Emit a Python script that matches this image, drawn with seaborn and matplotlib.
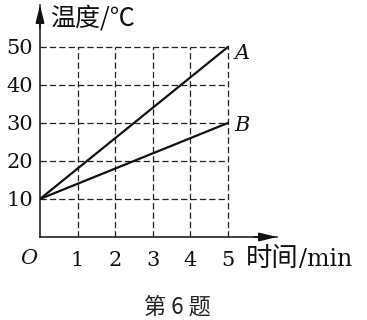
import matplotlib
matplotlib.use("Agg")
import matplotlib.pyplot as plt
import seaborn as sns
import pandas as pd

# data
times = [0, 5]
temp_A = [10, 50]
temp_B = [10, 30]
series = ["A", "B"]
x_ticks = [1, 2, 3, 4, 5]
y_ticks = [10, 20, 30, 40, 50]

df = pd.DataFrame({
    "time": times + times,
    "temp": temp_A + temp_B,
    "line": ["A"] * len(times) + ["B"] * len(times),
})

sns.set_theme(style="white")
plt.rcParams["font.family"] = ["DejaVu Serif"]
CJK = ["Noto Sans CJK SC", "DejaVu Sans"]

fig = plt.figure(figsize=(3.67, 3.2), dpi=100)
ax = fig.add_axes([40 / 367, 83 / 320, 237 / 367, 232 / 320])

# dashed grid
ax.hlines(y_ticks, 0, max(x_ticks), colors="#222222", linewidth=0.9,
          linestyles=(0, (5, 2.5)), zorder=1)
ax.vlines(x_ticks, 0, max(y_ticks), colors="#222222", linewidth=0.9,
          linestyles=(0, (5, 2.5)), zorder=1)

sns.lineplot(data=df, x="time", y="temp", units="line", estimator=None,
             color="#111111", linewidth=1.6, ax=ax, zorder=3, legend=False)

ax.set_xlim(0, 6.3)
ax.set_ylim(0, 61)
ax.set_xlabel("")
ax.set_ylabel("")
ax.set_xticks(x_ticks)
ax.set_yticks(y_ticks)
ax.set_xticklabels([str(v) for v in x_ticks])
ax.set_yticklabels([str(v) for v in y_ticks])
ax.tick_params(axis="both", length=0, labelsize=15, colors="#111111")
ax.tick_params(axis="x", pad=10)
ax.tick_params(axis="y", pad=5)

for s in ["top", "right"]:
    ax.spines[s].set_visible(False)
for s in ["left", "bottom"]:
    ax.spines[s].set_color("#111111")
    ax.spines[s].set_linewidth(1.1)

# arrows
ax.annotate("", xy=(1.0, 0), xycoords="axes fraction", xytext=(0.9, 0),
            arrowprops=dict(arrowstyle="-|>,head_length=0.9,head_width=0.22",
                            color="#111111", lw=1.1, shrinkA=0, shrinkB=0))
ax.annotate("", xy=(0, 1.0), xycoords="axes fraction", xytext=(0, 0.9),
            arrowprops=dict(arrowstyle="-|>,head_length=0.9,head_width=0.22",
                            color="#111111", lw=1.1, shrinkA=0, shrinkB=0))

# line labels
ax.annotate(series[0], xy=(times[-1], temp_A[-1]), xytext=(10, -5),
            textcoords="offset points", ha="center", va="center",
            fontsize=15, style="italic", color="#111111")
ax.annotate(series[1], xy=(times[-1], temp_B[-1]), xytext=(10, -2),
            textcoords="offset points", ha="center", va="center",
            fontsize=15, style="italic", color="#111111")

# origin
ax.text(-0.29, -5.6, "O", ha="center", va="center", fontsize=15,
        style="italic", color="#111111", clip_on=False)

# axis labels
t1 = ax.text(5.48, -5.6, "时间", ha="left", va="center", fontsize=19,
             family=CJK, color="#111111", clip_on=False)
ax.annotate("/min", xy=(1, 0.45), xycoords=t1, ha="left", va="center",
            fontsize=17, color="#111111")
ax.text(0.27, 57.4, "温度/℃", ha="left", va="center", fontsize=18,
        family=CJK, color="#111111", clip_on=False)

fig.text(177 / 367, 1 - 307 / 320, "第 6 题", ha="center", va="center",
         fontsize=16, family=CJK, color="#222222")

fig.savefig("out.png", dpi=100, facecolor="white")
